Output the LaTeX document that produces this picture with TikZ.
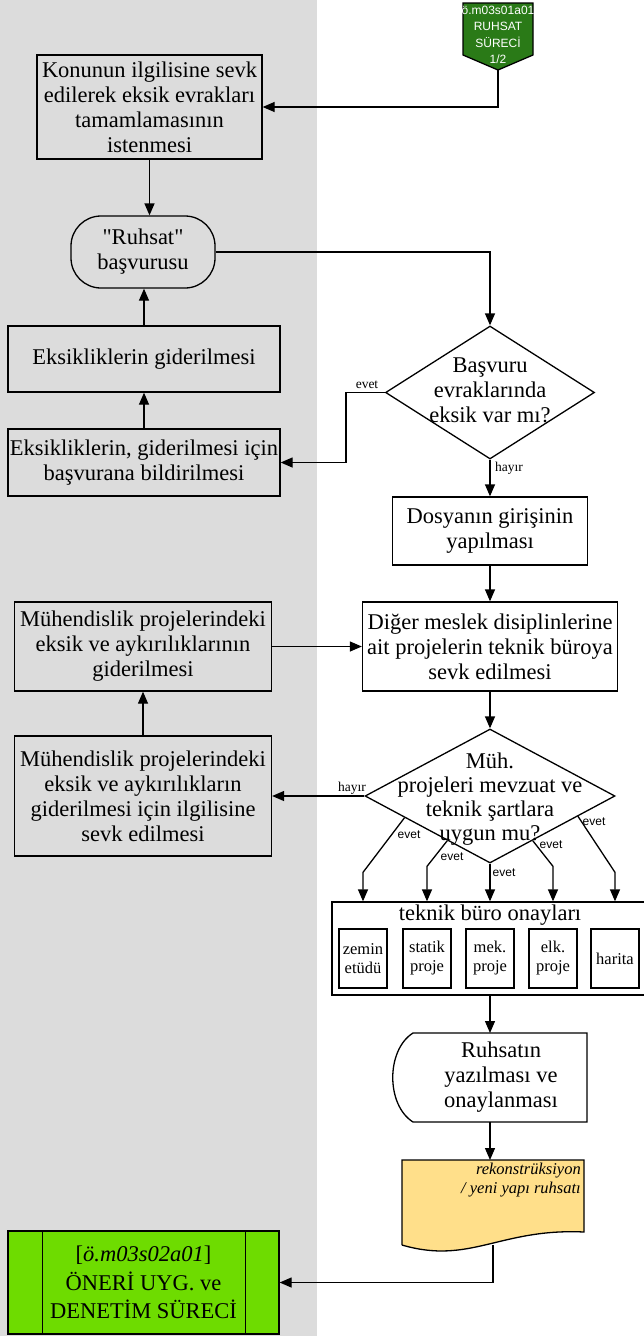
\documentclass[tikz,border=0pt]{standalone}
\usepackage{fontspec}
\setmainfont[Ligatures=TeXOff]{Liberation Serif}
\newfontfamily\arialfont{Liberation Sans}
\usepackage{tikz}
\usetikzlibrary{arrows.meta,positioning,shapes.geometric,calc}
\definecolor{ggband}{HTML}{DCDCDC}
\definecolor{ggdark}{HTML}{2A7A17}
\definecolor{gglime}{HTML}{6EDC00}
\definecolor{ggdoc}{HTML}{FFDF8A}

\begin{document}
\begin{tikzpicture}[x=1pt,y=-1pt,
  s/.style={draw,line width=1.3pt,inner sep=1pt,align=center,font=\fontsize{22.5}{25}\selectfont},
  sk/.style={draw,line width=1.3pt,inner sep=1pt,align=center,font=\fontsize{16.5}{19}\selectfont,
    minimum width=48pt,minimum height=59pt,fill=white},
  dia/.style={draw,line width=1.3pt,diamond,inner sep=0pt,fill=white},
  frame/.style={inner sep=0pt,outer sep=0pt},
  txt/.style={inner sep=0pt,align=center,font=\fontsize{22.5}{25}\selectfont},
  arr/.style={-{Triangle[length=12pt,width=10pt]},line width=1.3pt},
  lbl/.style={inner sep=0pt,font=\fontsize{13.5}{15}\selectfont},
  lbls/.style={inner sep=0pt,font=\arialfont\fontsize{12}{13}\selectfont}]
  \useasboundingbox (0,0) rectangle (643,1336);
  \fill[ggband] (0,0) rectangle (317,1336);
  % sayfa baglantisi
  \draw[line width=1.3pt,fill=ggdark] (463,3) -- (533,3) -- (533,55) -- (498,70) -- (463,55) -- cycle;
  \coordinate (kodalt) at (498,70);
  \node[inner sep=0pt,align=center,text=white,font=\arialfont\fontsize{12}{16.5}\selectfont] (kod) at (498,35)
    {ö.m03s01a01\\RUHSAT\\SÜRECİ\\1/2};
  % sol sutun
  \node[s,minimum width=225pt,minimum height=104pt] (kon) at (149.5,107)
    {Konunun ilgilisine sevk\\edilerek eksik evrakları\\tamamlamasının\\istenmesi};
  \node[s,rounded corners=30pt,minimum width=144pt,minimum height=72pt] (bas) at (143,252)
    {"Ruhsat"\\başvurusu};
  \node[s,minimum width=272pt,minimum height=66pt] (gid) at (144,359) {Eksikliklerin giderilmesi};
  \node[s,minimum width=272pt,minimum height=67pt] (bil) at (144,462.5)
    {Eksikliklerin, giderilmesi için\\başvurana bildirilmesi};
  \node[s,minimum width=257pt,minimum height=89pt] (mgi) at (143,646.5)
    {Mühendislik projelerindeki\\eksik ve aykırılıklarının\\giderilmesi};
  \node[s,minimum width=257pt,minimum height=120pt] (mse) at (143,796)
    {Mühendislik projelerindeki\\eksik ve aykırılıkların\\giderilmesi için ilgilisine\\sevk edilmesi};
  % sag sutun
  \node[dia,minimum width=209pt,minimum height=133pt] (evr) at (490,392.5) {};
  \node[txt] (evrt) at (490,390) {Başvuru\\evraklarında\\eksik var mı?};
  \node[s,fill=white,minimum width=195pt,minimum height=68pt] (dos) at (490,531) {Dosyanın girişinin\\yapılması};
  \node[s,fill=white,minimum width=255pt,minimum height=89pt] (dig) at (490,646.5)
    {Diğer meslek disiplinlerine\\ait projelerin teknik büroya\\sevk edilmesi};
  \node[dia,minimum width=250pt,minimum height=134pt] (uyg) at (490,796) {};
  \node[txt,font=\fontsize{22.5}{24}\selectfont] (uygt) at (490,799)
    {Müh.\\projeleri mevzuat ve\\teknik şartlara\\uygun mu?};
  \node[draw,line width=1.3pt,fill=white,minimum width=313pt,minimum height=93pt] (ona) at (488.5,948.5) {};
  \node[txt] (onat) at (490,915) {teknik büro onayları};
  \node[sk] (zem) at (363,958.5) {zemin\\etüdü};
  \node[sk] (sta) at (427,958.5) {statik\\proje};
  \node[sk] (mek) at (490,958.5) {mek.\\proje};
  \node[sk] (elk) at (553,958.5) {elk.\\proje};
  \node[sk] (har) at (615,958.5) {harita};
  \node[frame,minimum width=194pt,minimum height=89pt] (yaz) at (490,1077.5) {};
  \draw[line width=1.3pt,fill=white] (yaz.north east) -- ($(yaz.north west)+(20,0)$)
    .. controls ($(yaz.north west)+(-7,17)$) and ($(yaz.south west)+(-7,-17)$) .. ($(yaz.south west)+(20,0)$)
    -- (yaz.south east) -- cycle;
  \node[txt] (yazt) at ($(yaz)+(11,0)$) {Ruhsatın\\yazılması ve\\onaylanması};
  \node[frame,minimum width=182pt,minimum height=85pt] (bel) at (493,1202.5) {};
  \draw[line width=1.3pt,fill=ggdoc] (bel.south west) -- (bel.north west) -- (bel.north east)
    -- ($(bel.south east)+(0,-13)$) .. controls ($(bel.south east)+(-84,-17)$) and ($(bel.south west)+(68,20)$)
    .. (bel.south west);
  \node[inner sep=0pt,align=right,anchor=north east,font=\itshape\fontsize{16.5}{19}\selectfont] (belt)
    at ($(bel.north east)+(-3,3)$) {rekonstrüksiyon\\/ yeni yapı ruhsatı};
  \node[s,fill=gglime,minimum width=271pt,minimum height=103pt,font=\fontsize{22.5}{28.5}\selectfont] (son)
    at (143.5,1282.5) {[\textit{ö.m03s02a01}]\\ÖNERİ UYG. ve\\DENETİM SÜRECİ};
  \draw[line width=1.3pt] ($(son.north west)+(35,0)$) -- ($(son.south west)+(35,0)$);
  \draw[line width=1.3pt] ($(son.north east)+(-34,0)$) -- ($(son.south east)+(-34,0)$);
  % baglantilar
  \draw[arr] (kodalt) |- (kon.east);
  \draw[arr] (kon.south) -- (kon.south |- bas.north);
  \draw[arr] (gid.north) -- (gid.north |- bas.south);
  \draw[arr] (bil.north) -- (gid.south);
  \draw[arr] (bas.east) -| (evr.north);
  \draw[arr] (evr.west) -- ++(-39,0) |- (bil.east);
  \draw[arr] (evr.south) -- (dos.north);
  \draw[arr] (dos.south) -- (dig.north);
  \draw[arr] (mgi.east) -- (dig.west);
  \draw[arr] (mse.north) -- (mgi.south);
  \draw[arr] (dig.south) -- (uyg.north);
  \draw[arr] (uyg.west) -- (mse.east);
  \draw[arr] ($(uyg.west)!0.32!(uyg.south)$) -- ($(zem.north |- ona.north)+(0,-29)$) -- (zem.north |- ona.north);
  \draw[arr] ($(uyg.west)!0.66!(uyg.south)$) -- ($(sta.north |- ona.north)+(0,-35)$) -- (sta.north |- ona.north);
  \draw[arr] (uyg.south) -- (mek.north |- ona.north);
  \draw[arr] ($(uyg.south)!0.34!(uyg.east)$) -- ($(elk.north |- ona.north)+(0,-35)$) -- (elk.north |- ona.north);
  \draw[arr] ($(uyg.south)!0.70!(uyg.east)$) -- ($(har.north |- ona.north)+(0,-29)$) -- (har.north |- ona.north);
  \draw[arr] (yaz.north |- ona.south) -- (yaz.north);
  \draw[arr] (yaz.south) -- (yaz.south |- bel.north);
  \draw[arr] (bel.south) |- (son.east);
  % etiketler
  \node[lbl] (ev1) at (367,385) {evet};
  \node[lbl] (hy1) at (509,468) {hayır};
  \node[lbl] (hy2) at (352,788) {hayır};
  \node[lbls] (e1) at (409,835) {evet};
  \node[lbls] (e2) at (452,857) {evet};
  \node[lbls] (e3) at (504,873) {evet};
  \node[lbls] (e4) at (551,845) {evet};
  \node[lbls] (e5) at (594,822) {evet};
\end{tikzpicture}
\end{document}
